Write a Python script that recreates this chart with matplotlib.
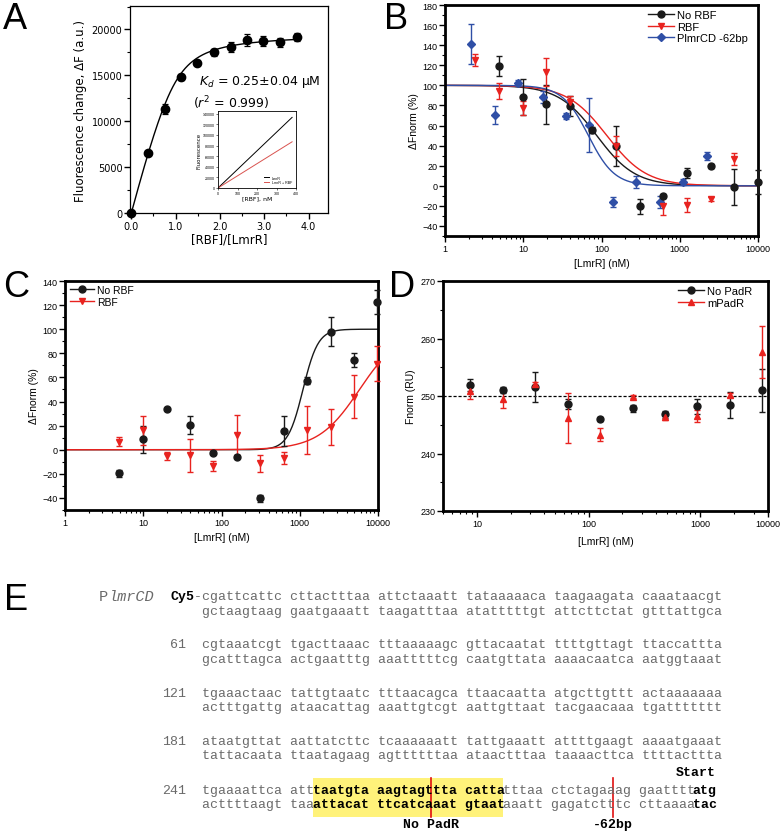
import numpy as np
import matplotlib.pyplot as plt
from matplotlib.lines import Line2D
from matplotlib.patches import Rectangle
from matplotlib.ticker import MultipleLocator, LogLocator, NullFormatter

# ---------------- data ----------------
# A: fluorescence titration of LmrR with RBF
a_ratio = [0.0, 0.37, 0.75, 1.12, 1.49, 1.87, 2.24, 2.61, 2.98, 3.36, 3.73]
a_dF = [0, 6550, 11300, 14800, 16400, 17500, 18100, 18900, 18700, 18600, 19200]
a_err = [0, 250, 550, 350, 300, 400, 500, 650, 550, 500, 450]
a_fmax, a_kd_rel = 19600, 0.10      # quadratic binding fit
inset_conc = [0, 380]
inset_lmrr = [0, 133000]
inset_lmrr_rbf = [0, 87000]

# B: MST, PlmrCD probe
b_x_norbf = [4.9, 9.85, 19.6, 39.7, 76.5, 154, 312, 619, 1233, 2500, 4964, 10000]
b_y_norbf = [119, 88, 81, 79, 55.6, 40, -20.4, -10.5, 12.8, 19.4, -1.5, 3.5]
b_e_norbf = [10, 18, 19, 10, 3, 20, 7.5, 2, 5, 2, 18, 12]
b_x_rbf = [2.42, 4.9, 9.85, 19.6, 39.7, 154, 619, 1233, 2500, 4964]
b_y_rbf = [125, 94.4, 77.8, 113.6, 83, 40, -20, -19, -13, 27]
b_e_rbf = [6, 8, 7, 14, 6, 10, 9, 7, 2, 6]
b_x_del = [2.15, 4.36, 8.66, 17.7, 34.9, 70, 142, 277, 561, 1115, 2220]
b_y_del = [141, 70.5, 102, 88, 69.8, 60.5, -16.4, 4, -15.8, 3.5, 29.4]
b_e_del = [20, 9, 3, 6, 3, 27, 5, 6, 6, 3, 4]
b_fit_norbf = (87, 1.77)    # (EC50 nM, Hill n)
b_fit_rbf = (117, 1.71)
b_fit_del = (68, 2.6)

# C: MST
c_x = [4.94, 10, 19.9, 39.5, 78.4, 156, 309, 626, 1244, 2495, 4955, 9850]
c_y_norbf = [-19.5, 8.7, 33.6, 20.3, -2.4, -5.7, -40.3, 15.6, 57.3, 98, 74.5, 122.6]
c_e_norbf = [3, 11, 0, 7.3, 1, 1, 3, 12.7, 3, 12, 6, 10]
c_y_rbf = [6.7, 16.1, -5.2, -4.6, -13.4, 12.3, -11.2, -7, 16.4, 19.2, 44.1, 71.4]
c_e_rbf = [3.5, 12, 3, 13.5, 4, 16.6, 6.9, 5, 20, 15, 17.5, 14.7]
c_fit_norbf = (1100, 4.5)
c_fit_rbf = (5810, 1.65)

# D: MST with PadR site
d_x = [8.7, 17.1, 33.3, 65.3, 127, 249, 483, 940, 1830, 3570]
d_y_nopadr = [251.9, 251.0, 251.5, 248.6, 246.0, 247.9, 246.8, 248.2, 248.4, 251.0]
d_e_nopadr = [1.1, 0.5, 2.6, 0.8, 0.3, 0.6, 0.6, 1.3, 2.3, 3.7]
d_y_mpadr = [250.8, 249.5, 252.1, 246.2, 243.3, 249.9, 246.3, 246.5, 250.2, 257.7]
d_e_mpadr = [1.4, 1.6, 0.4, 4.3, 1.1, 0.3, 0.5, 1.0, 0.3, 4.5]
d_baseline = 250
d_xticks_lab = ['10', '100', '1000', '10000']

# E: promoter sequence
e_numbers = ['', '61', '121', '181', '241']
e_top = ['cgattcattc cttactttaa attctaaatt tataaaaaca taagaagata caaataacgt',
         'cgtaaatcgt tgacttaaac tttaaaaagc gttacaatat ttttgttagt ttaccattta',
         'tgaaactaac tattgtaatc tttaacagca ttaacaatta atgcttgttt actaaaaaaa',
         'ataatgttat aattatcttc tcaaaaaatt tattgaaatt attttgaagt aaaatgaaat',
         'tgaaaattca atttaatgta aagtagttta cattatttaa ctctagaaag gaattttatg']
e_bot = ['gctaagtaag gaatgaaatt taagatttaa atatttttgt attcttctat gtttattgca',
         'gcatttagca actgaatttg aaatttttcg caatgttata aaaacaatca aatggtaaat',
         'actttgattg ataacattag aaattgtcgt aattgttaat tacgaacaaa tgattttttt',
         'tattacaata ttaatagaag agttttttaa ataactttaa taaaacttca ttttacttta',
         'acttttaagt taaattacat ttcatcaaat gtaataaatt gagatctttc cttaaaatac']
e_bold = [(14, 38), (62, 65)]      # bold character ranges in last block
e_padr_box = (14, 38)              # highlighted PadR site
e_cuts = [29, 52]                  # probe ends
e_cut_labels = ['No PadR', '-62bp']

# ---------------- figure ----------------
W, H = 782, 837
fig = plt.figure(figsize=(W / 100, H / 100), dpi=100)
plt.rcParams['font.family'] = 'Liberation Sans'


def box(x0, y0, x1, y1):
    return [x0 / W, 1 - y1 / H, (x1 - x0) / W, (y1 - y0) / H]


def style(ax, lw=2.0, size=6.5):
    for s in ax.spines.values():
        s.set_linewidth(lw)
    ax.tick_params(which='major', direction='out', length=4, width=1,
                   labelsize=size, pad=1.5)
    ax.tick_params(which='minor', direction='out', length=2, width=0.8)


def logx(ax, lo, hi, ticks, labels):
    ax.set_xscale('log')
    ax.set_xlim(lo, hi)
    ax.set_xticks(ticks, labels)
    ax.xaxis.set_minor_locator(LogLocator(base=10, subs=range(2, 10)))
    ax.xaxis.set_minor_formatter(NullFormatter())


def hill_down(x, ec, n):
    return 100 / (1 + (x / ec) ** n)


def hill_up(x, ec, n):
    return 100 * x ** n / (x ** n + ec ** n)


BLK, RED, BLU = '#1a1a1a', '#e8231f', '#2f4fa6'

# E layout (pixel rows)
row_y = [597, 645, 694, 742, 791]
gap = 14.5

# background axes for E and panel letters (pixel coordinates)
ax_e = fig.add_axes([0, 0, 1, 1])
ax_e.set_xlim(0, W)
ax_e.set_ylim(H, 0)
ax_e.axis('off')

for lab, (px, py) in zip('ABCDE', [(15, 19), (396, 19), (16, 287), (402, 287), (16, row_y[0] + 3)]):
    ax_e.text(px, py, lab, fontsize=26, ha='center', va='center')

# ---- A ----
axA = fig.add_axes(box(130, 7, 328, 214))
r = np.linspace(0, a_ratio[-1], 200)
s = 1 + r + a_kd_rel
axA.plot(r, a_fmax * (s - np.sqrt(s ** 2 - 4 * r)) / 2, color='black', lw=1)
axA.errorbar(a_ratio, a_dF, yerr=a_err, fmt='o', color='black', ms=6,
             capsize=2.5, elinewidth=0.9, capthick=0.9, clip_on=False, zorder=3)
axA.set_xlim(-0.03, 4.44)
axA.set_ylim(0, 22560)
axA.set_xticks([0, 1, 2, 3, 4], ['0.0', '1.0', '2.0', '3.0', '4.0'])
axA.xaxis.set_minor_locator(MultipleLocator(0.5))
axA.yaxis.set_major_locator(MultipleLocator(5000))
axA.yaxis.set_minor_locator(MultipleLocator(2500))
style(axA, lw=0.9, size=7)
for t in axA.get_xticklabels() + axA.get_yticklabels():
    t.set_family('DejaVu Sans')
axA.set_xlabel('[RBF]/[LmrR]', family='DejaVu Sans', fontsize=8.5, labelpad=1)
axA.set_ylabel('Fluorescence change, ΔF (a.u.)', family='DejaVu Sans', fontsize=8.5, labelpad=3)
axA.text(1.53, 14390, r'$K_d$ = 0.25±0.04 μM', family='DejaVu Sans', fontsize=9, va='center')
axA.text(1.40, 12100, r'($r^2$ = 0.999)', family='DejaVu Sans', fontsize=9, va='center')

axI = fig.add_axes(box(218, 112, 296, 189))
axI.plot(inset_conc, inset_lmrr, color='black', lw=0.7, label='LmrR')
axI.plot(inset_conc, inset_lmrr_rbf, color='#d9534f', lw=0.7, label='LmrR + RBF')
axI.set_xlim(0, 400)
axI.set_ylim(0, 145000)
axI.set_xticks([0, 100, 200, 300, 400])
axI.set_yticks(range(0, 140001, 20000))
for sp in axI.spines.values():
    sp.set_linewidth(0.6)
axI.tick_params(labelsize=2.6, length=1.2, width=0.4, pad=0.8)
axI.set_xlabel('[RBF], nM', family='DejaVu Sans', fontsize=4.5, labelpad=0.5)
axI.set_ylabel('Fluorescence', family='DejaVu Sans', fontsize=4, labelpad=1)
axI.legend(loc='lower right', fontsize=2.6, frameon=False, handlelength=1.5,
           borderaxespad=0.6, labelspacing=0.2)

# ---- B ----
axB = fig.add_axes(box(445, 6, 758, 237))
xs = np.logspace(0, 4, 300)
axB.plot(xs, hill_down(xs, *b_fit_norbf), color=BLK, lw=1)
axB.plot(xs, hill_down(xs, *b_fit_rbf), color=RED, lw=1)
axB.plot(xs, hill_down(xs, *b_fit_del), color=BLU, lw=1)
kw = dict(ms=5, capsize=2, elinewidth=1, capthick=1, clip_on=False, zorder=3)
axB.errorbar(b_x_del, b_y_del, yerr=b_e_del, fmt='D', color=BLU, **dict(kw, ms=4.3))
axB.errorbar(b_x_norbf, b_y_norbf, yerr=b_e_norbf, fmt='o', color=BLK, **kw)
axB.errorbar(b_x_rbf, b_y_rbf, yerr=b_e_rbf, fmt='v', color=RED, **kw)
logx(axB, 1, 10000, [1, 10, 100, 1000, 10000], ['1', '10', '100', '1000', '10000'])
axB.set_ylim(-50, 180)
axB.set_yticks(range(-40, 181, 20))
axB.yaxis.set_minor_locator(MultipleLocator(10))
style(axB)
axB.set_xlabel('[LmrR] (nM)', fontsize=7.5, labelpad=4)
axB.set_ylabel('ΔFnorm (%)', fontsize=7.5, labelpad=2)
hB = [Line2D([], [], color=BLK, marker='o', ms=5, lw=1),
      Line2D([], [], color=RED, marker='v', ms=5, lw=1),
      Line2D([], [], color=BLU, marker='D', ms=4.3, lw=1)]
axB.legend(hB, ['No RBF', 'RBF', 'PlmrCD -62bp'], fontsize=8, frameon=False,
           loc='upper left', bbox_to_anchor=(648 / W, 1 - 11 / H),
           bbox_transform=fig.transFigure, borderpad=0, borderaxespad=0,
           handlelength=2.3, handletextpad=0.3, labelspacing=0.15)

# ---- C ----
axC = fig.add_axes(box(65, 282, 378, 511))
axC.plot(xs, hill_up(xs, *c_fit_norbf), color=BLK, lw=1)
axC.plot(xs, hill_up(xs, *c_fit_rbf), color=RED, lw=1)
axC.errorbar(c_x, c_y_norbf, yerr=c_e_norbf, fmt='o', color=BLK, **kw)
axC.errorbar(c_x, c_y_rbf, yerr=c_e_rbf, fmt='v', color=RED, **kw)
logx(axC, 1, 10000, [1, 10, 100, 1000, 10000], ['1', '10', '100', '1000', '10000'])
axC.set_ylim(-50, 140)
axC.set_yticks(range(-40, 141, 20))
axC.yaxis.set_minor_locator(MultipleLocator(10))
style(axC)
axC.set_xlabel('[LmrR] (nM)', fontsize=7.5, labelpad=4)
axC.set_ylabel('ΔFnorm (%)', fontsize=7.5, labelpad=2)
axC.legend(hB[:2], ['No RBF', 'RBF'], fontsize=7.5, frameon=False,
           loc='upper left', bbox_to_anchor=(70 / W, 1 - 286 / H),
           bbox_transform=fig.transFigure, borderpad=0, borderaxespad=0,
           handlelength=2.3, handletextpad=0.3, labelspacing=0.15)

# ---- D ----
axD = fig.add_axes(box(443, 282, 768, 512))
axD.axhline(d_baseline, color='black', lw=0.9, ls=(0, (2.5, 1.5)))
axD.errorbar(d_x, d_y_nopadr, yerr=d_e_nopadr, fmt='o', color=BLK, **kw)
axD.errorbar(d_x, d_y_mpadr, yerr=d_e_mpadr, fmt='^', color=RED, **kw)
d_lo, d_hi = 4.97, 4030
logx(axD, d_lo, d_hi, [10, 100, 1000, d_hi], d_xticks_lab)
axD.set_ylim(230, 270)
axD.set_yticks(range(230, 271, 10))
axD.yaxis.set_minor_locator(MultipleLocator(5))
style(axD)
axD.set_xlabel('[LmrR] (nM)', fontsize=7.5, labelpad=6)
axD.set_ylabel('Fnorm (RU)', fontsize=7.5, labelpad=3)
hD = [Line2D([], [], color=BLK, marker='o', ms=5, lw=1),
      Line2D([], [], color=RED, marker='^', ms=5, lw=1)]
axD.legend(hD, ['No PadR', 'mPadR'], fontsize=8, frameon=False,
           loc='upper left', bbox_to_anchor=(678 / W, 1 - 287 / H),
           bbox_transform=fig.transFigure, borderpad=0, borderaxespad=0,
           handlelength=2.3, handletextpad=0.3, labelspacing=0.15)

# ---- E ----
fs = 9.5
cw = 0.6 * fs * 100 / 72          # monospace advance in pixels
fs_p = 11
cw_p = 0.6 * fs_p * 100 / 72
x0 = 201.7
grey = '#6a6a6a'
mono = 'Liberation Mono'


def seq_line(txt, y, bold_ranges):
    mask = np.zeros(len(txt), bool)
    for a, b in bold_ranges:
        mask[a:b] = True
    i = 0
    while i < len(txt):
        j = i
        while j < len(txt) and mask[j] == mask[i]:
            j += 1
        ax_e.text(x0 + i * cw, y, txt[i:j], family=mono, fontsize=fs,
                  weight='bold' if mask[i] else 'normal',
                  color='black' if mask[i] else grey, ha='left', va='center')
        i = j


a, b = e_padr_box
ax_e.add_patch(Rectangle((x0 + a * cw, row_y[-1] - 12), (b - a) * cw, gap + 24,
                         color='#fff27a', lw=0, zorder=0))
for k, (num, top, bot) in enumerate(zip(e_numbers, e_top, e_bot)):
    y = row_y[k]
    br = e_bold if k == len(e_top) - 1 else []
    seq_line(top, y, br)
    seq_line(bot, y + gap, br)
    if num:
        ax_e.text(x0 - 2 * cw, y, num, family=mono, fontsize=fs, color=grey,
                  ha='right', va='center')

ax_e.text(x0 - cw, row_y[0], '-', family=mono, fontsize=fs, color=grey, ha='left', va='center')
ax_e.text(x0 - 4 * cw, row_y[0], 'Cy5', family=mono, fontsize=fs, weight='bold',
          ha='left', va='center')
p_start = x0 - 6 * cw - 6 * cw_p
ax_e.text(p_start, row_y[0], 'P', family=mono, fontsize=fs_p, color=grey,
          ha='left', va='center')
ax_e.text(p_start + cw_p, row_y[0], 'lmrCD', family=mono, fontsize=fs_p, style='italic',
          color=grey, ha='left', va='center')
ax_e.text(x0 + 65 * cw, row_y[-1] - 18, 'Start', family=mono, fontsize=fs,
          weight='bold', ha='right', va='center')
for c, lab in zip(e_cuts, e_cut_labels):
    xc = x0 + c * cw
    ax_e.plot([xc, xc], [row_y[-1] - 12, row_y[-1] + gap + 12], color='#e01010', lw=1.2)
    ax_e.text(xc, row_y[-1] + gap + 20, lab, family=mono, fontsize=fs,
              weight='bold', ha='center', va='center')

fig.savefig('out.png', dpi=100)
